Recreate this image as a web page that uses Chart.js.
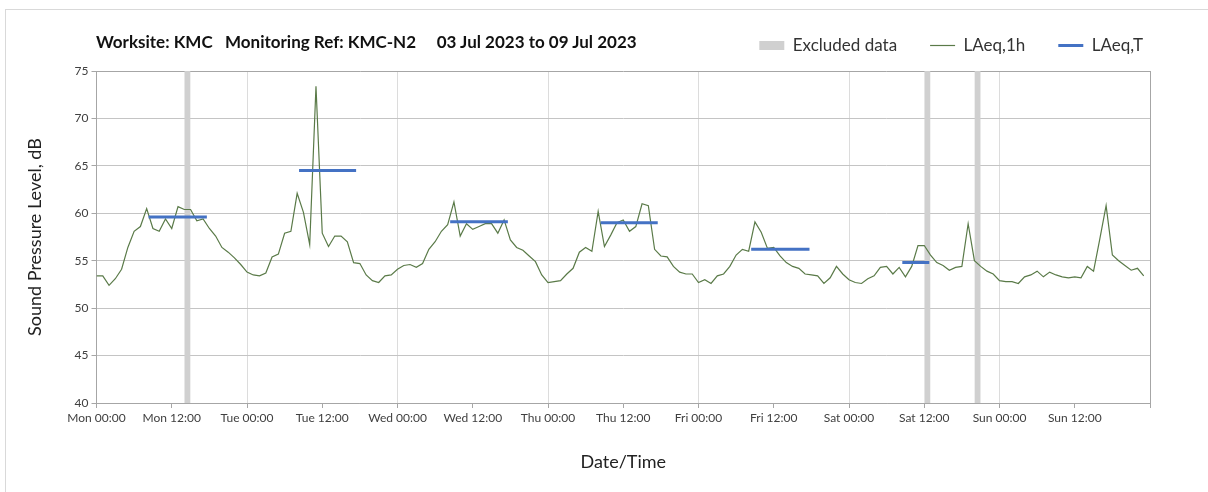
<!DOCTYPE html>
<html>
<head>
<script src="https://cdn.jsdelivr.net/npm/chart.js@4"></script>
<style>
  body { margin: 0; background: #fff; }
  #wrap { position: relative; width: 1208px; height: 492px; overflow: hidden; }
  #frame { position: absolute; left: 5px; top: 9px; width: 1220px; height: 500px; border: 1px solid #d9d9d9; }
  #title { position: absolute; left: 96px; top: 31px; font: bold 17px Lato; white-space: pre; color: #111; }
  canvas { position: absolute; left: 0; top: 0; }
</style>
</head>
<body>
<div id="wrap">
  <div id="frame"></div>
  <canvas id="chart" width="1208" height="492"></canvas>
  <div id="title">Worksite: KMC   Monitoring Ref: KMC-N2     03 Jul 2023 to 09 Jul 2023</div>
</div>
<script>
// hourly LAeq,1h, Mon 00:00 .. Sun 23:00
const laeq1h = [
  53.4, 53.4, 52.4, 53.1, 54.1, 56.4, 58.1, 58.6, 60.5, 58.4, 58.1, 59.4,
  58.4, 60.7, 60.4, 60.4, 59.2, 59.4, 58.4, 57.6, 56.4, 55.9, 55.3, 54.6,
  53.8, 53.5, 53.4, 53.7, 55.4, 55.7, 57.9, 58.1, 62.1, 60.1, 56.7, 73.4,
  57.9, 56.5, 57.6, 57.6, 57.0, 54.8, 54.7, 53.5, 52.9, 52.7, 53.4, 53.5,
  54.1, 54.5, 54.6, 54.3, 54.7, 56.2, 57.0, 58.1, 58.8, 61.2, 57.6, 58.9,
  58.3, 58.6, 58.9, 58.9, 57.9, 59.3, 57.2, 56.4, 56.1, 55.5, 54.9, 53.5,
  52.7, 52.8, 52.9, 53.6, 54.2, 55.9, 56.4, 56.0, 60.2, 56.5, 57.7, 59.0,
  59.3, 58.1, 58.6, 61.0, 60.8, 56.2, 55.5, 55.4, 54.4, 53.8, 53.6, 53.6,
  52.7, 53.0, 52.6, 53.4, 53.6, 54.4, 55.6, 56.2, 56.0, 59.1, 58.0, 56.3,
  56.4, 55.5, 54.8, 54.4, 54.2, 53.6, 53.5, 53.4, 52.6, 53.2, 54.4, 53.6,
  53.0, 52.7, 52.6, 53.1, 53.4, 54.3, 54.4, 53.6, 54.3, 53.3, 54.4, 56.6,
  56.6, 55.6, 54.8, 54.5, 54.0, 54.3, 54.4, 58.9, 55.0, 54.4, 53.9, 53.6,
  52.9, 52.8, 52.8, 52.6, 53.3, 53.5, 53.9, 53.3, 53.8, 53.5, 53.3, 53.2,
  53.3, 53.2, 54.4, 53.9, 57.3, 60.8, 55.6, 55.0, 54.5, 54.0, 54.2, 53.4
];

// LAeq,T periods (hours from Mon 00:00)
const periodStart = [8.3, 32.3, 56.4, 80.4, 104.4, 128.5];
const periodEnd = [17.6, 41.4, 65.6, 89.5, 113.7, 132.8];
const laeqT = [59.6, 64.5, 59.1, 59.0, 56.2, 54.8];

// excluded hours
const excludedStart = [14, 132, 140];
const excludedEnd = [15, 133, 141];

const xTickLabels = [
  'Mon 00:00', 'Mon 12:00', 'Tue 00:00', 'Tue 12:00', 'Wed 00:00', 'Wed 12:00',
  'Thu 00:00', 'Thu 12:00', 'Fri 00:00', 'Fri 12:00', 'Sat 00:00', 'Sat 12:00',
  'Sun 00:00', 'Sun 12:00'
];
const yMin = 40, yMax = 75;

const hourlyPoints = laeq1h.map((v, i) => ({ x: i, y: v }));

const periodPoints = [];
laeqT.forEach((v, i) => {
  periodPoints.push({ x: periodStart[i], y: v }, { x: periodEnd[i], y: v }, { x: periodEnd[i], y: null });
});

const excludedPoints = [];
excludedStart.forEach((s, i) => {
  excludedPoints.push({ x: s, y: yMax }, { x: excludedEnd[i], y: yMax }, { x: excludedEnd[i], y: null });
});

const tickFont = { family: 'Lato', size: 12 };

// extra room under the legend, and push it to the right edge
const legendTweak = {
  id: 'legendTweak',
  beforeInit(chart) {
    const fit = chart.legend.fit;
    chart.legend.fit = function () {
      fit.call(this);
      this.height += 7;
    };
  },
  afterLayout(chart) {
    chart.legend.right += 26;
    chart.legend.width += 26;
  }
};

new Chart('chart', {
  type: 'line',
  data: {
    datasets: [{
      label: 'Excluded data',
      data: excludedPoints,
      backgroundColor: '#d0d0d0',
      borderColor: '#d0d0d0',
      borderWidth: 0,
      fill: 'start',
      pointRadius: 0,
      pointStyle: 'rect',
      spanGaps: false,
      order: 2
    }, {
      label: 'LAeq,1h',
      data: hourlyPoints,
      borderColor: '#5a7a48',
      backgroundColor: '#5a7a48',
      borderWidth: 1.2,
      pointRadius: 0,
      pointStyle: 'line',
      order: 1
    }, {
      label: 'LAeq,T',
      data: periodPoints,
      borderColor: '#4472c4',
      backgroundColor: '#4472c4',
      borderWidth: 3,
      pointRadius: 0,
      pointStyle: 'line',
      spanGaps: false,
      order: 0
    }]
  },
  plugins: [legendTweak],
  options: {
    responsive: false,
    animation: false,
    layout: { padding: { top: 4, right: 58, bottom: 0, left: 0 } },
    plugins: {
      tooltip: { enabled: false },
      legend: {
        position: 'top',
        align: 'end',
        labels: {
          usePointStyle: true,
          pointStyleWidth: 25,
          boxWidth: 25,
          boxHeight: 9,
          padding: 33,
          color: '#333',
          font: { family: 'Lato', size: 17 },
          sort: (a, b) => a.datasetIndex - b.datasetIndex
        }
      }
    },
    scales: {
      x: {
        type: 'linear',
        min: 0,
        max: 168,
        afterFit: (scale) => { scale.height = 89; },
        ticks: {
          stepSize: 12,
          autoSkip: false,
          maxRotation: 0,
          color: '#404040',
          font: tickFont,
          callback: (v) => xTickLabels[v / 12] ?? ''
        },
        grid: {
          color: (ctx) => {
            const v = ctx.tick ? ctx.tick.value : 0;
            if (v === 168) return '#a6a6a6';
            return v % 24 === 0 ? '#dcdcdc' : 'rgba(0,0,0,0)';
          },
          tickColor: '#a6a6a6',
          tickLength: 5
        },
        border: { color: '#a6a6a6' },
        title: {
          display: true,
          text: 'Date/Time',
          color: '#222',
          font: { family: 'Lato', size: 18 },
          padding: { top: 0, bottom: 19 }
        }
      },
      y: {
        min: yMin,
        max: yMax,
        afterFit: (scale) => { scale.width = 96.5; },
        ticks: { stepSize: 5, color: '#404040', font: tickFont },
        grid: {
          color: (ctx) => (ctx.tick && ctx.tick.value === yMax ? '#a6a6a6' : '#c4c4c4'),
          tickColor: '#a6a6a6',
          tickLength: 5
        },
        border: { color: '#a6a6a6' },
        title: {
          display: true,
          text: 'Sound Pressure Level, dB',
          color: '#222',
          font: { family: 'Lato', size: 18 },
          padding: { top: 24, bottom: 0 }
        }
      }
    }
  }
});
</script>
</body>
</html>
